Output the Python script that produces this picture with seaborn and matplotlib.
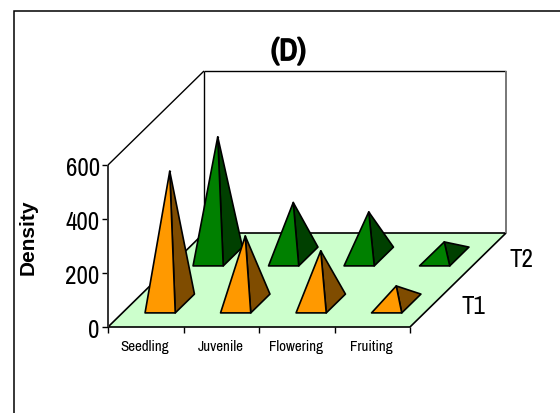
import numpy as np
import pandas as pd
import matplotlib
matplotlib.use("Agg")
import matplotlib.pyplot as plt
import matplotlib.patheffects as pe
from matplotlib.patches import Rectangle
from matplotlib.transforms import ScaledTranslation
import seaborn as sns

stages = ["Seedling", "Juvenile", "Flowering", "Fruiting"]
treatments = ["T1", "T2"]
t1_density = [490, 250, 195, 65]
t2_density = [443, 200, 165, 54]
y_ticks = [0, 200, 400, 600]

W, H = 560, 413
X0, Y0 = 108, 327          # front-left floor corner, pixels
CAT_W = 75.5               # pixels per stage
PX_PER_UNIT = 0.27         # pixels per density unit
DEPTH_X, DEPTH_Y = 48, 47  # pixel shift per treatment row
RIGHT, TOP = 505, 71
NARROW = ["Archivo Narrow", "Liberation Sans", "DejaVu Sans"]

sns.set_theme(style="white")
plt.rcParams["font.family"] = NARROW

fig = plt.figure(figsize=(W / 100, H / 100), dpi=100)
ax = fig.add_axes([X0 / W, 1 - Y0 / H, (RIGHT - X0) / W, (Y0 - TOP) / H])
ax.set_xlim(0, (RIGHT - X0) / CAT_W)
ax.set_ylim(0, (Y0 - TOP) / PX_PER_UNIT)
ax.patch.set_visible(False)
for s in ax.spines.values():
    s.set_visible(False)

# oblique depth axis expressed in data units
dx, dy = DEPTH_X / CAT_W, DEPTH_Y / PX_PER_UNIT
ymax = y_ticks[-1]
ncat = len(stages)
ndep = len(treatments)


def project(c, d, v):
    return c + d * dx, v + d * dy


def poly(points, **kw):
    xy = np.array([project(*p) for p in points])
    ax.fill(xy[:, 0], xy[:, 1], **kw)


# floor
poly([(0, 0, 0), (ncat, 0, 0), (ncat, ndep, 0), (0, ndep, 0)],
     facecolor="#CCFFCC", edgecolor="black", lw=1.2, zorder=1, clip_on=False)


def edge(p, q, color="black", lw=1.0):
    a, b = project(*p), project(*q)
    ax.plot([a[0], b[0]], [a[1], b[1]], color=color, lw=lw, zorder=1.5,
            solid_capstyle="butt", clip_on=False)


# wall outlines
edge((0, 0, 0), (0, 0, ymax), color="#333333", lw=1.4)
edge((0, 0, ymax), (0, ndep, ymax))
edge((0, ndep, 0), (0, ndep, ymax))
edge((0, ndep, ymax), (ncat, ndep, ymax))
edge((ncat, ndep, 0), (ncat, ndep, ymax), color="#777777", lw=1.4)

palette = {"T1": ("#FF9900", "#7F4C00"), "T2": ("#008000", "#004000")}
hw = 0.2  # half of a pyramid base, in stage and depth units

rows = []
for d, (name, vals) in reversed(list(enumerate(zip(treatments, [t1_density, t2_density])))):
    front, side = palette[name]
    for c, v in enumerate(vals):
        cc, dc = c + 0.5, d + 0.5
        apex = (cc, dc, v)
        fl = (cc - hw, dc - hw, 0)
        fr = (cc + hw, dc - hw, 0)
        br = (cc + hw, dc + hw, 0)
        z = 3 + (1 - d) + c * 0.01
        poly([fr, br, apex], facecolor=side, edgecolor="black", lw=1.2,
             joinstyle="round", zorder=z)
        poly([fl, fr, apex], facecolor=front, edgecolor="black", lw=1.2,
             joinstyle="round", zorder=z)
        ax_x, ax_y = project(*apex)
        rows.append({"x": ax_x, "y": ax_y, "treatment": name})

# apex points placed through the seaborn scatter layer
apexes = pd.DataFrame(rows)
sns.scatterplot(data=apexes, x="x", y="y", color="black", s=1, linewidth=0,
                legend=False, ax=ax, zorder=6)
ax.set_xlabel("")
ax.set_ylabel("")
ax.set_xlim(0, (RIGHT - X0) / CAT_W)
ax.set_ylim(0, (Y0 - TOP) / PX_PER_UNIT)

# value axis
ax.set_yticks(y_ticks)
ax.set_yticklabels([str(t) for t in y_ticks], fontsize=18)
ax.set_xticks(range(ncat + 1))
ax.set_xticklabels([""] * (ncat + 1))
ax.tick_params(axis="both", which="major", left=True, bottom=True, length=4,
               width=1.0, color="black", pad=2, labelcolor="black")

# value labels sit slightly below their ticks
nudge = ScaledTranslation(0, -2 / 100, fig.dpi_scale_trans)
for lab in ax.get_yticklabels():
    lab.set_transform(lab.get_transform() + nudge)

for i, label in enumerate(stages):
    ax.annotate(label, (i + 0.5, 0), xytext=(-1, -24), textcoords="offset pixels",
                ha="center", va="baseline", fontsize=10.8, color="black",
                annotation_clip=False)

# treatment labels along the right-hand depth edge
for d, name in enumerate(treatments):
    x, y = project(ncat, d + 0.5, 0)
    ax.annotate(name, (x, y), xytext=(39, -3), textcoords="offset pixels",
                ha="center", va="center", fontsize=18, color="black")

fig.text(288.5 / W, 1 - 51 / H, "(D)", ha="center", va="center",
         fontsize=22, color="black",
         path_effects=[pe.withStroke(linewidth=1.3, foreground="black")])
fig.text(28 / W, 1 - 237 / H, "Density", rotation=90, ha="center", va="center",
         fontsize=15, fontweight="bold", color="black",
         family=["Liberation Sans", "DejaVu Sans"])

# outer chart frame, open past the canvas on the right and bottom
fig.add_artist(Rectangle((13.5 / W, -0.1), 1.2, 1 - 11.5 / H + 0.1,
                         transform=fig.transFigure, fill=False,
                         edgecolor="black", lw=1.1))

fig.savefig("out.png", dpi=100)
